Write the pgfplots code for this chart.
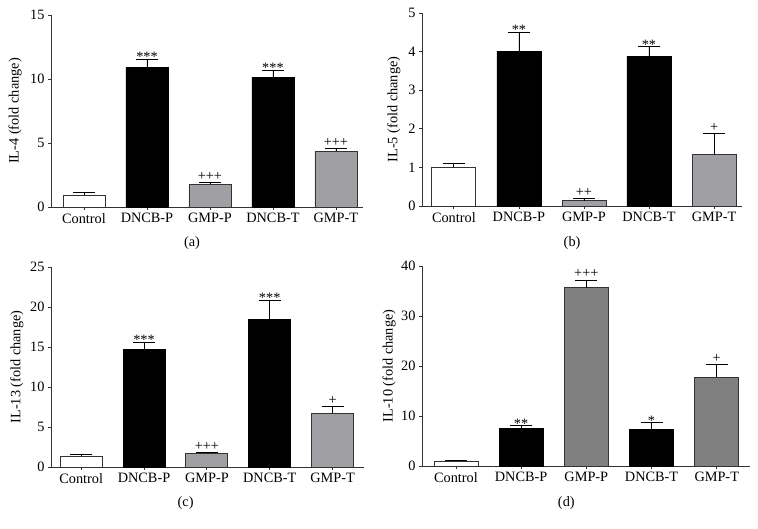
\documentclass[border=0pt]{standalone}
\usepackage{fontspec}
\setmainfont{Liberation Serif}
\usepackage{pgfplots}
\pgfplotsset{compat=1.18}
\definecolor{gbar}{HTML}{A0A0A4}
\definecolor{gbard}{HTML}{808080}
\definecolor{axc}{HTML}{333333}
\newcommand{\ff}{\fontsize{14.3}{16}\selectfont}
\pgfplotsset{
  panel/.style={
    scale only axis,
    axis lines=left,
    axis line style={-, axc, line width=0.8pt},
    tick style={axc, line width=0.8pt},
    tick align=outside,
    major tick length=3pt,
    ymin=0,
    xtick={0,1,2,3,4},
    xticklabels={Control,DNCB-P,GMP-P,DNCB-T,GMP-T},
    /pgf/number format/assume math mode=true,
    tick label style={font=\ff},
    label style={font=\ff},
    xlabel style={anchor=center},
    ylabel style={anchor=center},
    error bars/y dir=plus,
    error bars/y explicit,
    error bars/error bar style={black, line width=0.8pt},
    error bars/error mark options={rotate=90, mark size=11pt, line width=0.8pt, black},
    clip=false,
  },
  bw/.style={ybar, bar width=#1, draw=axc, line width=0.8pt, fill=white},
  bb/.style={ybar, bar width=#1, draw=black, line width=0.8pt, fill=black},
  bg/.style={ybar, bar width=#1, draw=axc, line width=0.8pt, fill=gbar},
  bgd/.style={ybar, bar width=#1, draw=axc, line width=0.8pt, fill=gbard},
  stars/.style={draw=none, mark=none, nodes near coords, point meta=explicit symbolic,
    nodes near coords style={anchor=base, inner sep=0pt, yshift=-2.5pt, font=\ff}},
  plus/.style={draw=none, mark=none, nodes near coords, point meta=explicit symbolic,
    nodes near coords style={anchor=base, inner sep=0pt, yshift=2pt, font=\ff}},
}
\begin{document}
\begin{tikzpicture}[x=1pt,y=1pt]
\useasboundingbox (0,0) rectangle (758,529);
% (a)
\begin{axis}[panel, at={(51pt,322pt)}, anchor=south west, width=312pt, height=192pt,
  xmin=-0.524, xmax=4.43, ymax=15, ytick={0,5,10,15},
  ylabel={IL-4 (fold change)}, ylabel style={at={(axis description cs:-0.115,0.5)}},
  xlabel={(a)}, xlabel style={at={(axis description cs:0.452,-0.188)}}]
\addplot[bw=42pt] coordinates {(0,0.91) +- (0,0.23)};
\addplot[bb=42pt] coordinates {(1,10.92) +- (0,0.62) (3,10.11) +- (0,0.60)};
\addplot[bg=42pt] coordinates {(2,1.79) +- (0,0.11) (4,4.34) +- (0,0.26)};
\addplot[stars] table[meta=l, row sep=\\] {x y l\\ 1 11.54 ***\\ 3 10.71 ***\\};
\addplot[plus] table[meta=l, row sep=\\] {x y l\\ 2 1.90 +++\\ 4 4.60 +++\\};
\end{axis}
% (b)
\begin{axis}[panel, at={(422pt,323pt)}, anchor=south west, width=320pt, height=193pt,
  xmin=-0.49, xmax=4.43, ymax=5, ytick={0,1,2,3,4,5},
  ylabel={IL-5 (fold change)}, ylabel style={at={(axis description cs:-0.0875,0.5)}},
  xlabel={(b)}, xlabel style={at={(axis description cs:0.469,-0.192)}}]
\addplot[bw=44pt] coordinates {(0,1.00) +- (0,0.11)};
\addplot[bb=44pt] coordinates {(1,4.01) +- (0,0.49) (3,3.88) +- (0,0.25)};
\addplot[bg=44pt] coordinates {(2,0.14) +- (0,0.06) (4,1.33) +- (0,0.56)};
\addplot[stars] table[meta=l, row sep=\\] {x y l\\ 1 4.50 **\\ 3 4.13 **\\};
\addplot[plus] table[meta=l, row sep=\\] {x y l\\ 2 0.20 ++\\ 4 1.89 +\\};
\end{axis}
% (c)
\begin{axis}[panel, at={(51pt,62pt)}, anchor=south west, width=313pt, height=200pt,
  xmin=-0.48, xmax=4.5, ymax=25, ytick={0,5,10,15,20,25},
  ylabel={IL-13 (fold change)}, ylabel style={at={(axis description cs:-0.109,0.5)}},
  xlabel={(c)}, xlabel style={at={(axis description cs:0.43,-0.18)}}]
\addplot[bw=42pt] coordinates {(0,1.33) +- (0,0.25)};
\addplot[bb=42pt] coordinates {(1,14.64) +- (0,0.96) (3,18.39) +- (0,2.49)};
\addplot[bg=42pt] coordinates {(2,1.71) +- (0,0.12) (4,6.70) +- (0,0.87)};
\addplot[stars] table[meta=l, row sep=\\] {x y l\\ 1 15.6 ***\\ 3 20.88 ***\\};
\addplot[plus] table[meta=l, row sep=\\] {x y l\\ 2 1.83 +++\\ 4 7.57 +\\};
\end{axis}
% (d)
\begin{axis}[panel, at={(422pt,63pt)}, anchor=south west, width=328pt, height=200pt,
  xmin=-0.52, xmax=4.51, ymax=40, ytick={0,10,20,30,40},
  ylabel={IL-10 (fold change)}, ylabel style={at={(axis description cs:-0.1,0.5)}},
  xlabel={(d)}, xlabel style={at={(axis description cs:0.44,-0.185)}}]
\addplot[bw=44pt] coordinates {(0,0.94) +- (0,0.20)};
\addplot[bb=44pt] coordinates {(1,7.55) +- (0,0.47) (3,7.28) +- (0,1.40)};
\addplot[bgd=44pt] coordinates {(2,35.67) +- (0,1.53) (4,17.77) +- (0,2.60)};
\addplot[stars] table[meta=l, row sep=\\] {x y l\\ 1 8.02 **\\ 3 8.68 *\\};
\addplot[plus] table[meta=l, row sep=\\] {x y l\\ 2 37.2 +++\\ 4 20.37 +\\};
\end{axis}
\end{tikzpicture}
\end{document}
